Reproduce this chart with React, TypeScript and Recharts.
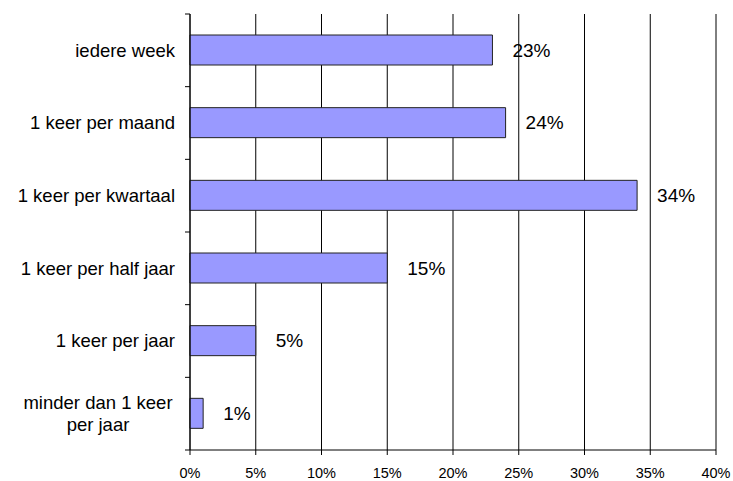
import React from "react";
import {
  BarChart,
  Bar,
  XAxis,
  YAxis,
  CartesianGrid,
  LabelList,
} from "recharts";

const categories = [
  "iedere week",
  "1 keer per maand",
  "1 keer per kwartaal",
  "1 keer per half jaar",
  "1 keer per jaar",
  "minder dan 1 keer per jaar",
];
const values = [23, 24, 34, 15, 5, 1];
const xTicks = [0, 5, 10, 15, 20, 25, 30, 35, 40];

const data = categories.map((name, i) => ({ name, value: values[i] }));

const FONT = "'Liberation Sans', Arial, sans-serif";
const AXIS_X = 190;
const BAND_HALF = (481 - 14 - 31) / categories.length / 2;

function CategoryTick(props: any) {
  const { y, payload, index } = props;
  const label: string = payload.value;
  const lines =
    label === "minder dan 1 keer per jaar" ? ["minder dan 1 keer", "per jaar"] : [label];
  const last = index === categories.length - 1;
  return (
    <g>
      <line x1={AXIS_X - 5} x2={AXIS_X} y1={y - BAND_HALF} y2={y - BAND_HALF} stroke="#000" />
      {last && (
        <line x1={AXIS_X - 5} x2={AXIS_X} y1={y + BAND_HALF} y2={y + BAND_HALF} stroke="#000" />
      )}
      {lines.length === 1 ? (
        <text
          x={AXIS_X - 15}
          y={y}
          dy="0.35em"
          textAnchor="end"
          fontSize={18.5}
          fontFamily={FONT}
          fill="#000"
        >
          {label}
        </text>
      ) : (
        <text textAnchor="middle" fontSize={18.5} fontFamily={FONT} fill="#000">
          <tspan x={98} y={y - 11} dy="0.35em">
            {lines[0]}
          </tspan>
          <tspan x={98} y={y + 11} dy="0.35em">
            {lines[1]}
          </tspan>
        </text>
      )}
    </g>
  );
}

export default function App() {
  return (
    <div style={{ position: "fixed", left: 0, top: 0, background: "#fff" }}>
      <BarChart
        width={733}
        height={481}
        data={data}
        layout="vertical"
        margin={{ top: 14, right: 17, bottom: 0, left: 0 }}
        barCategoryGap={0}
      >
        <CartesianGrid horizontal={false} stroke="#000" strokeWidth={1} />
        <XAxis
          type="number"
          domain={[0, 40]}
          ticks={xTicks}
          tickFormatter={(v: number) => `${v}%`}
          axisLine={{ stroke: "#000" }}
          tickLine={{ stroke: "#000" }}
          tickSize={5}
          tickMargin={13}
          height={31}
          interval={0}
          tick={{ fontSize: 14.5, fontFamily: FONT, fill: "#000" }}
        />
        <YAxis
          type="category"
          dataKey="name"
          width={190}
          axisLine={{ stroke: "#000" }}
          tickLine={false}
          interval={0}
          tick={<CategoryTick />}
        />
        <Bar
          dataKey="value"
          fill="#9999FF"
          stroke="#222"
          strokeWidth={1}
          barSize={30}
          isAnimationActive={false}
        >
          <LabelList
            dataKey="value"
            position="right"
            offset={20}
            formatter={(v: any) => `${v}%`}
            style={{ fontSize: 19, fontFamily: FONT, fill: "#000" }}
          />
        </Bar>
      </BarChart>
    </div>
  );
}
